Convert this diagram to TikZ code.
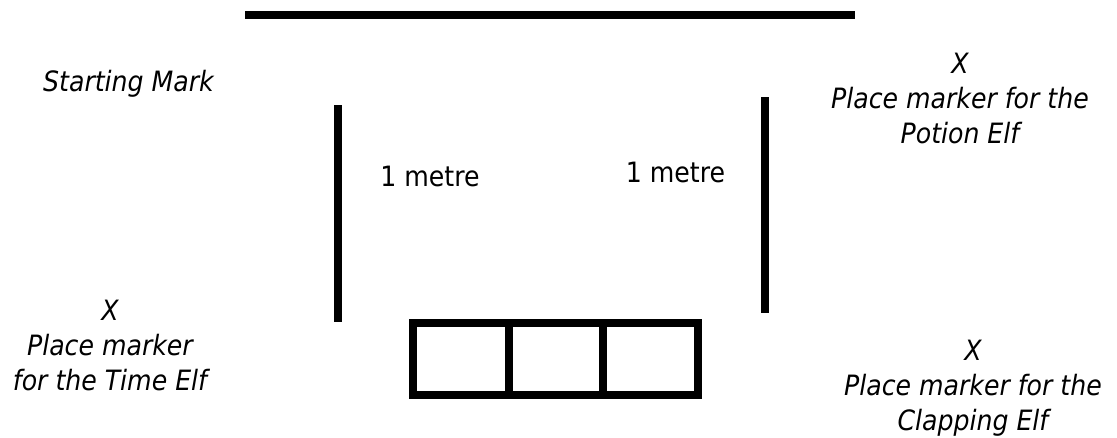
\documentclass[tikz,border=0pt]{standalone}
\usepackage{fontspec}
\setmainfont{DejaVu Sans Condensed}[ItalicFont={DejaVu Sans Condensed Oblique}]
\begin{document}
\begin{tikzpicture}[x=1pt,y=-1pt,
  bar/.style={line width=8pt,line cap=butt},
  lab/.style={font=\fontsize{28}{35}\selectfont,inner sep=0pt,anchor=base},
  itlab/.style={lab,font=\fontsize{28}{35}\selectfont\itshape,align=center}]
\useasboundingbox (0,0) rectangle (1117,437);
% top starting line
\coordinate (t1) at (245,14.5);
\coordinate (t2) at (855,14.5);
\draw[bar] (t1) -- (t2);
% vertical 1 metre lines
\coordinate (l1) at (337.5,105);
\coordinate (l2) at (337.5,322);
\draw[bar] (l1) -- (l2);
\coordinate (r1) at (765,97);
\coordinate (r2) at (765,313);
\draw[bar] (r1) -- (r2);
% three boxes
\coordinate (b1) at (413,323);
\coordinate (b2) at (698,395);
\draw[bar] (b1) rectangle (b2);
\draw[bar] (509,323) -- (509,395);
\draw[bar] (603,323) -- (603,395);
% labels
\node[lab] (lm) at (430,186) {1 metre};
\node[lab] (rm) at (675.5,182) {1 metre};
\node[itlab] (start) at (128.5,91) {Starting Mark};
\node[itlab] (potion) at (960,143) {X\\Place marker for the\\Potion Elf};
\node[itlab] (time) at (110,390) {X\\Place marker\\for the Time Elf};
\node[itlab] (clap) at (973,430) {X\\Place marker for the\\Clapping Elf};
\end{tikzpicture}
\end{document}
